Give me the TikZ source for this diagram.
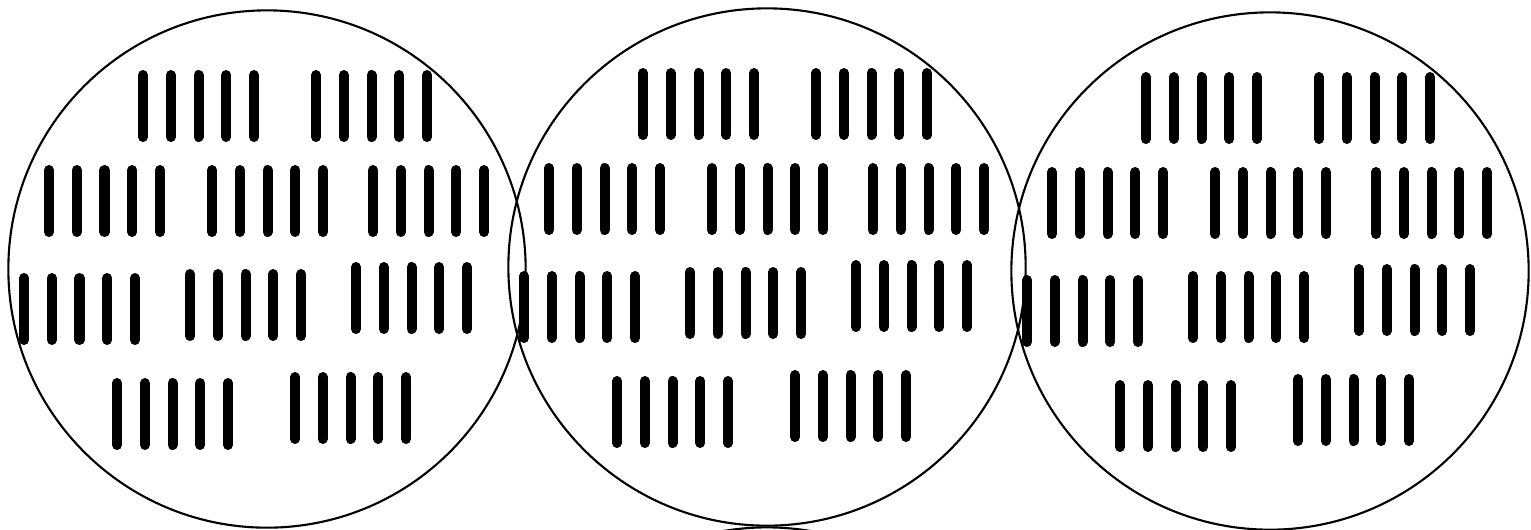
\documentclass[tikz,border=0pt]{standalone}
\usepackage{xcolor}

\tikzset{
  tally/.style={line width=0.1cm, line cap=round},
  ring/.style={circle, draw, line width=0.6pt, minimum size=5.17cm, inner sep=0pt},
}

% one group of five strokes, left stroke at x=#1, top at y=#2
\newcommand{\tallygroup}[2]{%
  \foreach \k in {0,...,4} {\draw[tally] ({#1+27.75*\k},{#2+5}) -- ++(0,62);}}

% the ten groups that fill one ring
\newcommand{\tallyfield}{%
  \tallygroup{143}{70} \tallygroup{316}{70}
  \tallygroup{49}{165} \tallygroup{212}{165} \tallygroup{373}{165}
  \tallygroup{24}{273} \tallygroup{190}{269} \tallygroup{356}{262}
  \tallygroup{117}{378} \tallygroup{295}{372}}

\begin{document}
\begin{tikzpicture}[x=0.01cm, y=-0.01cm]
            \useasboundingbox (0,0) rectangle (1531,529);
            \clip (0,0) rectangle (1531,529);

            % First ring
            \node[ring] (R1) at (267,269) {};
            \tallyfield

            % Second ring
            \begin{scope}[shift={(500,-2)}]
                \node[ring] (R2) at (267,269) {};
                \tallyfield
            \end{scope}

            % Third ring
            \begin{scope}[shift={(1003,2)}]
                \node[ring] (R3) at (267,269) {};
                \tallyfield
            \end{scope}

            % Ring below, only its top shows
            \node[ring] (R4) at (767,786) {};
        \end{tikzpicture}
\end{document}
